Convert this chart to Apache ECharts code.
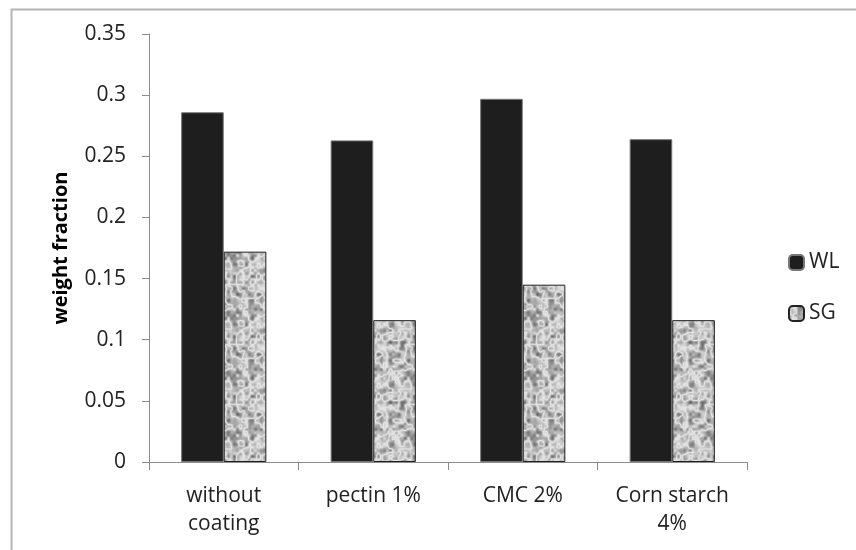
<!DOCTYPE html>
<html><head><meta charset="utf-8">
<script src="https://cdn.jsdelivr.net/npm/echarts@6/dist/echarts.min.js"></script>
<style>html,body{margin:0;padding:0;background:#fff}#c{width:856px;height:550px}</style>
</head><body><div id="c"></div>
<script>
const categories = ['without\ncoating', 'pectin 1%', 'CMC 2%', 'Corn starch\n4%'];
const wlValues = [0.286, 0.263, 0.297, 0.264];
const sgValues = [0.172, 0.116, 0.145, 0.116];
const seriesNames = ['WL', 'SG'];
const yTicks = { min: 0, max: 0.35, interval: 0.05 };

// deterministic grainy texture for SG bars (hash-based value noise, two octaves)
function makeTexture() {
  const s = 60, cv = document.createElement('canvas');
  cv.width = s; cv.height = s;
  const ctx = cv.getContext('2d');
  const img = ctx.createImageData(s, s);
  const sm = t => t * t * (3 - 2 * t);
  function noise(x, y, cell, seed) {
    const n = s / cell;
    const h = (i, j) => {
      i = ((i % n) + n) % n; j = ((j % n) + n) % n;
      const t = Math.sin(i * 127.1 + j * 311.7 + seed * 74.7) * 43758.5453;
      return t - Math.floor(t);
    };
    const gx = x / cell, gy = y / cell, i = Math.floor(gx), j = Math.floor(gy);
    const fx = sm(gx - i), fy = sm(gy - j);
    const a = h(i, j) * (1 - fx) + h(i + 1, j) * fx;
    const b = h(i, j + 1) * (1 - fx) + h(i + 1, j + 1) * fx;
    return a * (1 - fy) + b * fy;
  }
  for (let y = 0; y < s; y++) for (let x = 0; x < s; x++) {
    let v = 0.65 * noise(x, y, 6, 1) + 0.35 * noise(x, y, 3, 2);
    v = 1 - Math.abs(v - 0.5) * 2;          // ridges -> wormy look
    v = 85 + 145 * Math.pow(v, 1.15);
    v = Math.max(60, Math.min(232, v));
    const k = (y * s + x) * 4;
    img.data[k] = img.data[k + 1] = img.data[k + 2] = v; img.data[k + 3] = 255;
  }
  ctx.putImageData(img, 0, 0);
  return cv;
}
const tex = makeTexture();

const chart = echarts.init(document.getElementById('c'), null, { renderer: 'canvas' });
const font = '"Open Sans", "Liberation Sans", sans-serif';
chart.setOption({
  animation: false,
  backgroundColor: '#fff',
  graphic: [{
    type: 'rect', left: 9, top: 7, silent: true,
    shape: { width: 860, height: 560 },
    style: { fill: 'none', stroke: '#b4b4b4', lineWidth: 2 }
  }],
  grid: { left: 149, right: 109, top: 34, bottom: 88 },
  legend: {
    orient: 'vertical', left: 788, top: 252, padding: 0, itemWidth: 15, itemHeight: 15, itemGap: 30,
    data: seriesNames,
    textStyle: { fontFamily: font, fontSize: 21, color: '#222' }
  },
  xAxis: {
    type: 'category', data: categories,
    axisLine: { lineStyle: { color: '#8c8c8c', width: 1 } },
    axisTick: { show: true, length: 8, lineStyle: { color: '#8c8c8c' } },
    axisLabel: { fontFamily: font, fontSize: 21, color: '#222', margin: 20, lineHeight: 28 }
  },
  yAxis: {
    type: 'value', min: yTicks.min, max: yTicks.max, interval: yTicks.interval,
    name: 'weight fraction', nameLocation: 'middle', nameGap: 78,
    nameTextStyle: { fontFamily: font, fontSize: 20, fontWeight: 'bold', color: '#000' },
    axisLine: { show: true, lineStyle: { color: '#8c8c8c' } },
    axisTick: { show: true, length: 7, lineStyle: { color: '#8c8c8c' } },
    splitLine: { show: false },
    axisLabel: { fontFamily: font, fontSize: 21, color: '#222', margin: 23 }
  },
  series: [
    { name: seriesNames[0], type: 'bar', data: wlValues, barGap: '0%', barCategoryGap: '43%',
      itemStyle: { color: '#1e1e1e', borderColor: '#777', borderWidth: 1 } },
    { name: seriesNames[1], type: 'bar', data: sgValues, barGap: '0%', barCategoryGap: '43%',
      itemStyle: { color: { image: tex, repeat: 'repeat' }, borderColor: '#222', borderWidth: 1 } }
  ]
});
</script>
</body></html>
